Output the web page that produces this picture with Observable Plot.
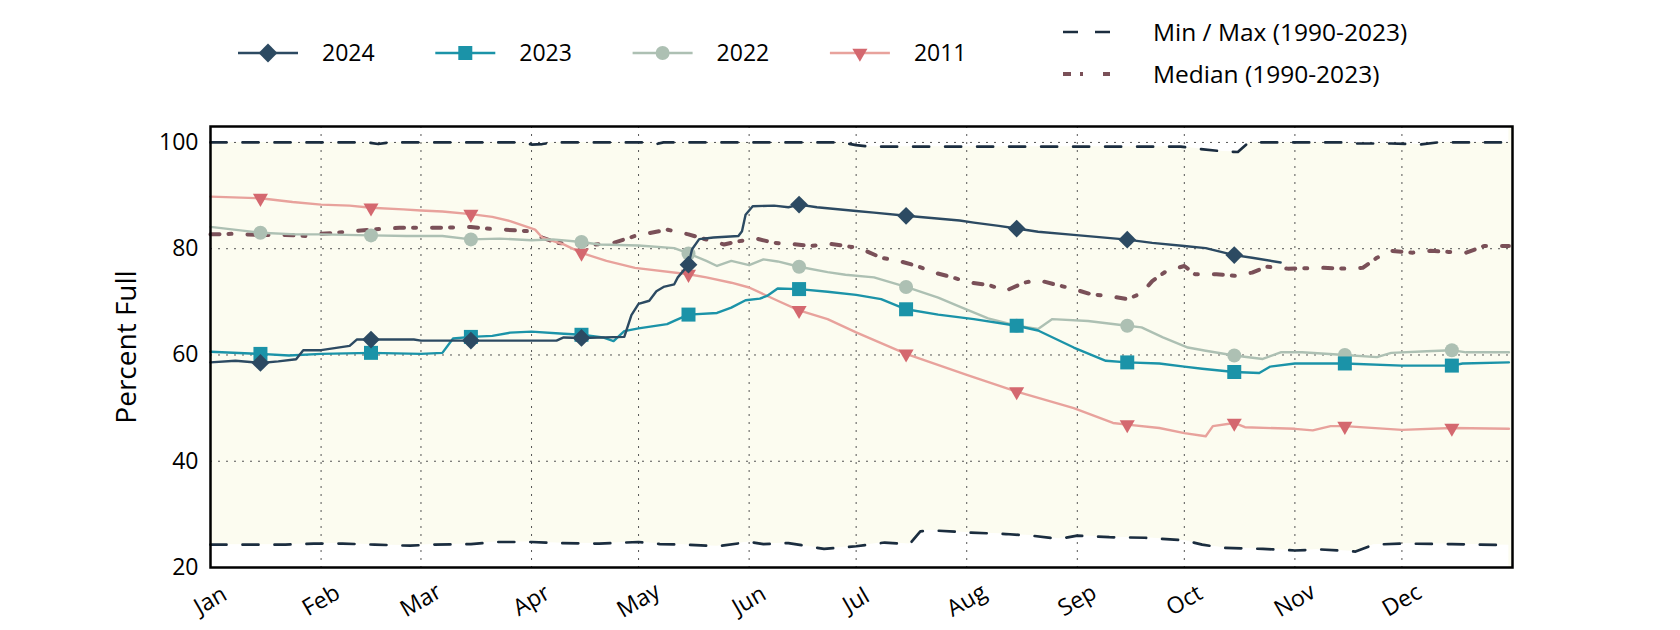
<!DOCTYPE html>
<html><head><meta charset="utf-8">
<script src="https://cdn.jsdelivr.net/npm/d3@7"></script>
<script src="https://cdn.jsdelivr.net/npm/@observablehq/plot@0.6"></script>
<style>
body{margin:0;background:#fff;}
#wrap{width:1680px;height:630px;overflow:hidden;background:#fff;}
#legend{display:block;}
#chart svg{display:block;}
g[aria-label="y-axis label"] text{font-family:"Open Sans",sans-serif;font-size:28px;}
</style></head>
<body><div id="wrap"><svg id="legend" width="1680" height="100"></svg><div id="chart"></div></div>
<script>
// ---- data (month-day, percent full) ----
const s2024 = [["01-01",58.6],["01-08",58.9],["01-15",58.5],["01-20",58.8],["01-25",59.2],["01-27",60.9],["02-01",60.9],["02-09",61.7],["02-11",62.9],["02-15",62.9],["02-27",62.9],["03-01",62.7],["03-15",62.7],["04-01",62.7],["04-08",62.7],["04-10",63.3],["04-15",63.2],["04-27",63.4],["04-29",67.5],["05-01",69.6],["05-04",70.2],["05-06",72.0],["05-08",72.8],["05-11",73.3],["05-12",74.6],["05-15",77.0],["05-16",79.9],["05-18",81.8],["05-22",82.1],["05-29",82.4],["05-30",83.3],["05-31",86.4],["06-02",88.0],["06-08",88.1],["06-12",87.8],["06-15",88.3],["06-20",87.8],["07-01",87.1],["07-06",86.8],["07-15",86.2],["07-30",85.3],["08-03",84.9],["08-10",84.3],["08-15",83.8],["08-21",83.2],["08-31",82.6],["09-15",81.7],["09-22",81.1],["10-01",80.5],["10-07",80.1],["10-15",78.8],["10-20",78.3],["10-28",77.4]];
const s2023 = [["01-01",60.6],["01-15",60.2],["01-23",59.9],["02-01",60.2],["02-15",60.4],["03-01",60.2],["03-07",60.4],["03-10",63.1],["03-15",63.4],["03-21",63.6],["03-26",64.2],["04-01",64.4],["04-10",64.0],["04-15",63.8],["04-21",63.3],["04-24",62.6],["04-27",64.5],["05-01",65.0],["05-09",65.8],["05-11",66.4],["05-15",67.6],["05-23",67.9],["05-27",68.9],["05-31",70.3],["06-04",70.6],["06-06",71.1],["06-09",72.5],["06-15",72.4],["06-23",71.9],["07-01",71.3],["07-08",70.5],["07-15",68.6],["07-24",67.6],["08-03",66.75],["08-15",65.5],["08-21",64.6],["08-31",61.4],["09-09",58.9],["09-15",58.6],["09-24",58.4],["10-01",57.8],["10-06",57.4],["10-15",56.8],["10-22",56.6],["10-25",57.8],["11-01",58.4],["11-15",58.4],["12-01",58.0],["12-15",58.0],["12-18",58.4],["12-31",58.6]];
const s2022 = [["01-01",84.1],["01-10",83.4],["01-15",83.0],["01-25",82.7],["02-01",82.7],["02-15",82.5],["02-25",82.4],["03-07",82.4],["03-15",81.75],["03-23",81.9],["04-01",81.6],["04-07",81.75],["04-15",81.25],["04-20",80.8],["05-01",80.6],["05-11",80.1],["05-15",79.1],["05-20",77.7],["05-23",76.75],["05-27",77.7],["06-01",76.9],["06-05",78.0],["06-09",77.6],["06-15",76.6],["06-23",75.6],["06-28",75.1],["07-06",74.6],["07-15",72.8],["07-24",70.8],["07-30",69.1],["08-07",66.9],["08-15",65.5],["08-21",64.9],["08-25",66.75],["09-04",66.4],["09-15",65.5],["09-19",65.2],["09-25",63.3],["10-02",61.4],["10-07",60.8],["10-15",59.9],["10-23",59.25],["10-28",60.5],["11-03",60.5],["11-15",60.0],["11-24",59.6],["11-28",60.4],["12-08",60.7],["12-15",60.9],["12-19",60.5],["12-31",60.5]];
const s2011 = [["01-01",89.8],["01-15",89.5],["01-24",88.8],["02-01",88.3],["02-09",88.1],["02-15",87.7],["02-24",87.4],["03-01",87.2],["03-07",87.0],["03-15",86.5],["03-21",86.0],["03-26",85.2],["04-02",83.6],["04-04",82.1],["04-10",80.8],["04-15",79.2],["04-22",77.7],["04-30",76.4],["05-15",75.2],["05-20",74.6],["05-27",73.6],["06-01",72.7],["06-09",70.2],["06-15",68.4],["06-23",66.75],["07-01",64.25],["07-15",60.2],["08-01",56.25],["08-15",53.1],["08-31",50.0],["09-11",47.2],["09-15",46.9],["09-24",46.25],["10-01",45.3],["10-07",44.7],["10-09",46.6],["10-15",47.2],["10-18",46.4],["11-01",46.1],["11-06",45.8],["11-11",46.6],["11-15",46.6],["12-01",45.9],["12-15",46.25],["12-31",46.1]];
const sMedian = [["01-01",82.7],["01-07",82.8],["01-15",82.6],["01-22",82.6],["01-28",82.4],["02-01",82.8],["02-09",83.2],["02-15",83.6],["02-23",83.95],["03-07",83.95],["03-15",84.1],["03-19",83.8],["03-24",83.6],["03-31",83.3],["04-04",82.1],["04-08",81.1],["04-14",80.8],["04-19",80.8],["04-24",81.1],["04-30",82.4],["05-09",83.6],["05-15",82.7],["05-18",82.1],["05-25",80.8],["05-29",81.4],["06-03",81.9],["06-08",81.1],["06-13",80.9],["06-18",80.5],["06-24",80.9],["06-28",80.5],["07-02",80.1],["07-08",78.3],["07-13",77.7],["07-18",76.75],["07-23",75.5],["07-28",74.6],["08-02",73.6],["08-07",73.2],["08-12",72.1],["08-17",73.6],["08-21",74.1],["08-25",73.4],["08-31",72.4],["09-05",71.4],["09-10",71.1],["09-15",70.5],["09-19",71.6],["09-22",73.9],["09-26",75.8],["10-01",76.75],["10-04",75.2],["10-10",75.2],["10-15",74.9],["10-20",75.5],["10-24",76.6],["10-30",76.25],["11-09",76.4],["11-15",76.25],["11-20",76.4],["11-24",78.3],["11-28",79.6],["12-04",79.25],["12-09",79.6],["12-14",79.4],["12-19",79.25],["12-24",80.5],["12-31",80.5]];
const sMax = [["01-01",100],["02-14",100],["02-17",99.7],["02-20",100],["03-30",100],["04-01",99.6],["04-04",99.7],["04-07",100],["05-04",100],["05-06",99.7],["05-08",100],["06-27",100],["07-01",99.5],["07-05",99.2],["09-30",99.2],["10-05",98.8],["10-12",98.3],["10-16",98.2],["10-19",100],["11-15",100],["11-17",99.8],["11-28",99.8],["12-03",99.7],["12-06",99.6],["12-11",100],["12-31",100]];
const sMin = [["01-01",24.3],["01-22",24.3],["01-30",24.5],["02-07",24.5],["02-16",24.3],["02-26",24.1],["03-03",24.3],["03-15",24.4],["03-22",24.8],["04-01",24.8],["04-08",24.6],["04-20",24.5],["05-01",24.8],["05-07",24.4],["05-14",24.3],["05-23",24.0],["06-01",24.8],["06-05",24.4],["06-12",24.6],["06-22",23.5],["07-01",24.0],["07-09",24.7],["07-16",24.4],["07-19",26.8],["07-22",27.0],["08-01",26.6],["08-12",26.3],["08-19",26.0],["08-27",25.4],["09-01",26.0],["09-10",25.7],["09-20",25.6],["09-27",25.3],["10-01",25.1],["10-06",24.3],["10-12",23.7],["10-23",23.5],["11-01",23.2],["11-08",23.4],["11-18",23.0],["11-23",24.3],["12-01",24.5],["12-15",24.4],["12-31",24.2]];
const yTicks = [20, 40, 60, 80, 100];
const monthLabels = ["Jan","Feb","Mar","Apr","May","Jun","Jul","Aug","Sep","Oct","Nov","Dec"];
const legendYears = ["2024","2023","2022","2011"];
const legendRefs = ["Min / Max (1990-2023)", "Median (1990-2023)"];

// ---- helpers ----
const YEAR = 2001;
const toDate = md => new Date(Date.UTC(YEAR, +md.slice(0,2) - 1, +md.slice(3,5)));
const rows = s => s.map(([md, v]) => ({date: toDate(md), value: v, md}));
const marks15 = s => rows(s).filter(d => d.md.endsWith("-15"));
const monthTicks = monthLabels.map((m, i) => new Date(Date.UTC(YEAR, i, 1)));

const C = {y2024:"#2c4a62", y2023:"#1b93a8", y2022:"#adc0b3", y2011:"#e8a29c", y2011m:"#d4686f", med:"#7a5058", mm:"#1b2d3f", band:"#fcfcf0"};

const chart = Plot.plot({
  width: 1680, height: 530,
  marginTop: 26, marginBottom: 63, marginLeft: 210, marginRight: 168,
  style: {fontFamily: "'Open Sans', sans-serif", fontSize: "23px", background: "white", color: "black", overflow: "visible"},
  x: {type: "utc", domain: [new Date(Date.UTC(YEAR,0,1)), new Date(Date.UTC(YEAR+1,0,1))]},
  y: {domain: [20, 103]},
  marks: [
    Plot.frame({fill: C.band, stroke: null}),
    Plot.areaY(rows(sMax), {x: "date", y1: "value", y2: 103, fill: "white"}),
    Plot.areaY(rows(sMin), {x: "date", y1: 20, y2: "value", fill: "white"}),
    Plot.gridX({ticks: monthTicks, stroke: "#555", strokeOpacity: 1, strokeWidth: 1, strokeDasharray: "2,6"}),
    Plot.gridY({ticks: [40, 60, 80, 100], stroke: "#555", strokeOpacity: 1, strokeWidth: 1, strokeDasharray: "2,6"}),
    Plot.line(rows(sMax), {x: "date", y: "value", stroke: C.mm, strokeWidth: 2.7, strokeDasharray: "16,16"}),
    Plot.line(rows(sMin), {x: "date", y: "value", stroke: C.mm, strokeWidth: 2.7, strokeDasharray: "16,16"}),
    Plot.line(rows(sMedian), {x: "date", y: "value", stroke: C.med, strokeWidth: 4, strokeDasharray: "9,9,3,16"}),
    Plot.line(rows(s2011), {x: "date", y: "value", stroke: C.y2011, strokeWidth: 2.4}),
    Plot.dot(marks15(s2011), {x: "date", y: "value", symbol: "triangle", rotate: 180, r: 5.6, fill: C.y2011m, stroke: null}),
    Plot.line(rows(s2022), {x: "date", y: "value", stroke: C.y2022, strokeWidth: 2.4}),
    Plot.dot(marks15(s2022), {x: "date", y: "value", symbol: "circle", r: 7, fill: C.y2022, stroke: null}),
    Plot.line(rows(s2023), {x: "date", y: "value", stroke: C.y2023, strokeWidth: 2.4}),
    Plot.dot(marks15(s2023), {x: "date", y: "value", symbol: "square", r: 7.9, fill: C.y2023, stroke: null}),
    Plot.line(rows(s2024), {x: "date", y: "value", stroke: C.y2024, strokeWidth: 2.4}),
    Plot.dot(marks15(s2024), {x: "date", y: "value", symbol: "diamond2", r: 8, fill: C.y2024, stroke: null}),
    Plot.frame({stroke: "black", strokeWidth: 2.5}),
    Plot.axisY({ticks: yTicks, tickSize: 0, tickPadding: 12, label: "Percent Full", labelAnchor: "center", labelOffset: 94, labelArrow: "none"}),
    Plot.axisX({ticks: monthTicks, tickFormat: (d) => monthLabels[d.getUTCMonth()], tickSize: 0, tickPadding: 33, tickRotate: -30, textAnchor: "middle", lineAnchor: "middle", label: null})
  ]
});
document.getElementById("chart").appendChild(chart);

// ---- legend ----
const lg = d3.select("#legend").attr("font-family", "'Open Sans', sans-serif").attr("font-size", 23);
const legendItems = [
  {label: legendYears[0], line: C.y2024, fill: C.y2024, sym: d3.symbolDiamond2, r: 8.5, rot: 0},
  {label: legendYears[1], line: C.y2023, fill: C.y2023, sym: d3.symbolSquare, r: 7.9, rot: 0},
  {label: legendYears[2], line: C.y2022, fill: C.y2022, sym: d3.symbolCircle, r: 7, rot: 0},
  {label: legendYears[3], line: C.y2011, fill: C.y2011m, sym: d3.symbolTriangle, r: 5.6, rot: 180}
];
legendItems.forEach((it, i) => {
  const x0 = 238 + i * 197.3, y = 53;
  const g = lg.append("g");
  g.append("line").attr("x1", x0).attr("x2", x0 + 60).attr("y1", y).attr("y2", y).attr("stroke", it.line).attr("stroke-width", 2.4);
  g.append("path").attr("d", d3.symbol(it.sym, Math.PI * it.r * it.r)()).attr("fill", it.fill)
    .attr("transform", `translate(${x0 + 30},${y}) rotate(${it.rot})`);
  g.append("text").attr("x", x0 + 84).attr("y", y).attr("dy", "0.35em").text(it.label);
});
const refs = [
  {label: legendRefs[0], y: 32, stroke: C.mm, w: 2.7, dash: "15,17"},
  {label: legendRefs[1], y: 74, stroke: C.med, w: 4, dash: "8,9,3,20"}
];
refs.forEach(r => {
  lg.append("line").attr("x1", 1063).attr("x2", 1110).attr("y1", r.y).attr("y2", r.y)
    .attr("stroke", r.stroke).attr("stroke-width", r.w).attr("stroke-dasharray", r.dash);
  lg.append("text").attr("x", 1153).attr("y", r.y).attr("dy", "0.35em").attr("font-size", 24.5).text(r.label);
});
</script></body></html>
